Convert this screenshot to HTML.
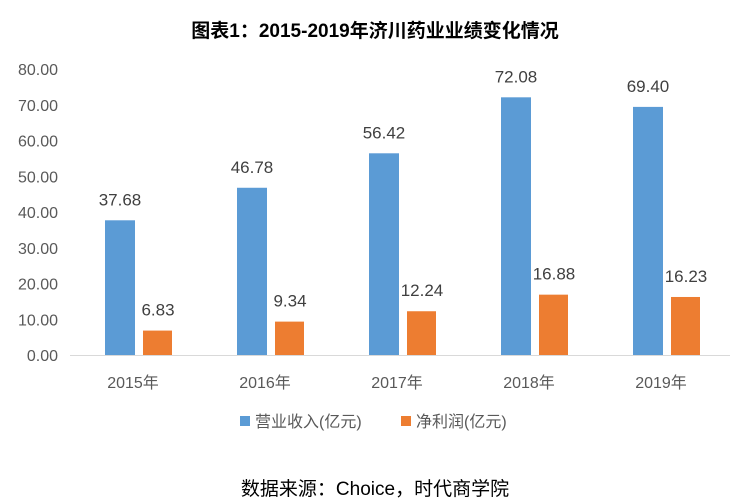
<!DOCTYPE html>
<html><head><meta charset="utf-8">
<style>
body{margin:0;background:#fff;}
svg text{font-family:"Liberation Sans","Noto Sans CJK SC",sans-serif;}
</style></head>
<body>
<svg id="chart" width="750" height="498" xmlns="http://www.w3.org/2000/svg">
<rect width="750" height="498" fill="#fff"/>
<text x="375" y="37" text-anchor="middle" font-size="19" font-weight="bold" fill="#000">图表1：2015-2019年济川药业业绩变化情况</text>
<g id="yaxis"></g>
<g id="bars"></g>
<line x1="70" y1="355.5" x2="730" y2="355.5" stroke="#d9d9d9" stroke-width="1"/>
<g id="xlabels"></g>
<g>
<rect x="240" y="416" width="10" height="10" fill="#5b9bd5"/>
<text x="255" y="427" font-size="16" fill="#595959">营业收入(亿元)</text>
<rect x="401" y="416" width="10" height="10" fill="#ed7d31"/>
<text x="416" y="427" font-size="16" fill="#595959">净利润(亿元)</text>
</g>
<text x="375" y="495" text-anchor="middle" font-size="19" fill="#000">数据来源：Choice，时代商学院</text>
</svg>
<script>
const categories=["2015年","2016年","2017年","2018年","2019年"];
const revenue=[37.68,46.78,56.42,72.08,69.40];
const profit=[6.83,9.34,12.24,16.88,16.23];
const yTicks=[0,10,20,30,40,50,60,70,80];
const NS="http://www.w3.org/2000/svg";
const y0=355,yTop=69,yMax=80,xL=70,xR=730;
function yS(v){return y0-(v/yMax)*(y0-yTop);}
function xC(i){return xL+(xR-xL)/categories.length*(i+0.5);}
function mk(tag,attrs,parent){const e=document.createElementNS(NS,tag);for(const k in attrs)e.setAttribute(k,attrs[k]);parent.appendChild(e);return e;}
const ya=document.getElementById('yaxis'),bars=document.getElementById('bars'),xl=document.getElementById('xlabels');
yTicks.forEach(t=>{
 const e=mk('text',{x:58,y:yS(t)+6,'text-anchor':'end','font-size':16,fill:'#595959'},ya);
 
 
 e.textContent=t.toFixed(2);
});
categories.forEach((c,i)=>{
 const cx=xC(i);
 const b=mk('rect',{x:cx-31,y:yS(revenue[i]),width:30,height:y0-yS(revenue[i]),fill:'#5b9bd5'},bars);
 
 
 const o=mk('rect',{x:cx+7,y:yS(profit[i]),width:29,height:y0-yS(profit[i]),fill:'#ed7d31'},bars);
 
 
 const l1=mk('text',{x:cx-16,y:yS(revenue[i])-15,'text-anchor':'middle','font-size':17,fill:'#404040'},bars);
 
 
 l1.textContent=revenue[i].toFixed(2);
 const l2=mk('text',{x:cx+22,y:yS(profit[i])-15,'text-anchor':'middle','font-size':17,fill:'#404040'},bars);
 
 
 l2.textContent=profit[i].toFixed(2);
 const xt=mk('text',{x:cx-3,y:388,'text-anchor':'middle','font-size':16,fill:'#595959'},xl);
 
 
 xt.textContent=c;
});
</script>
</body></html>
